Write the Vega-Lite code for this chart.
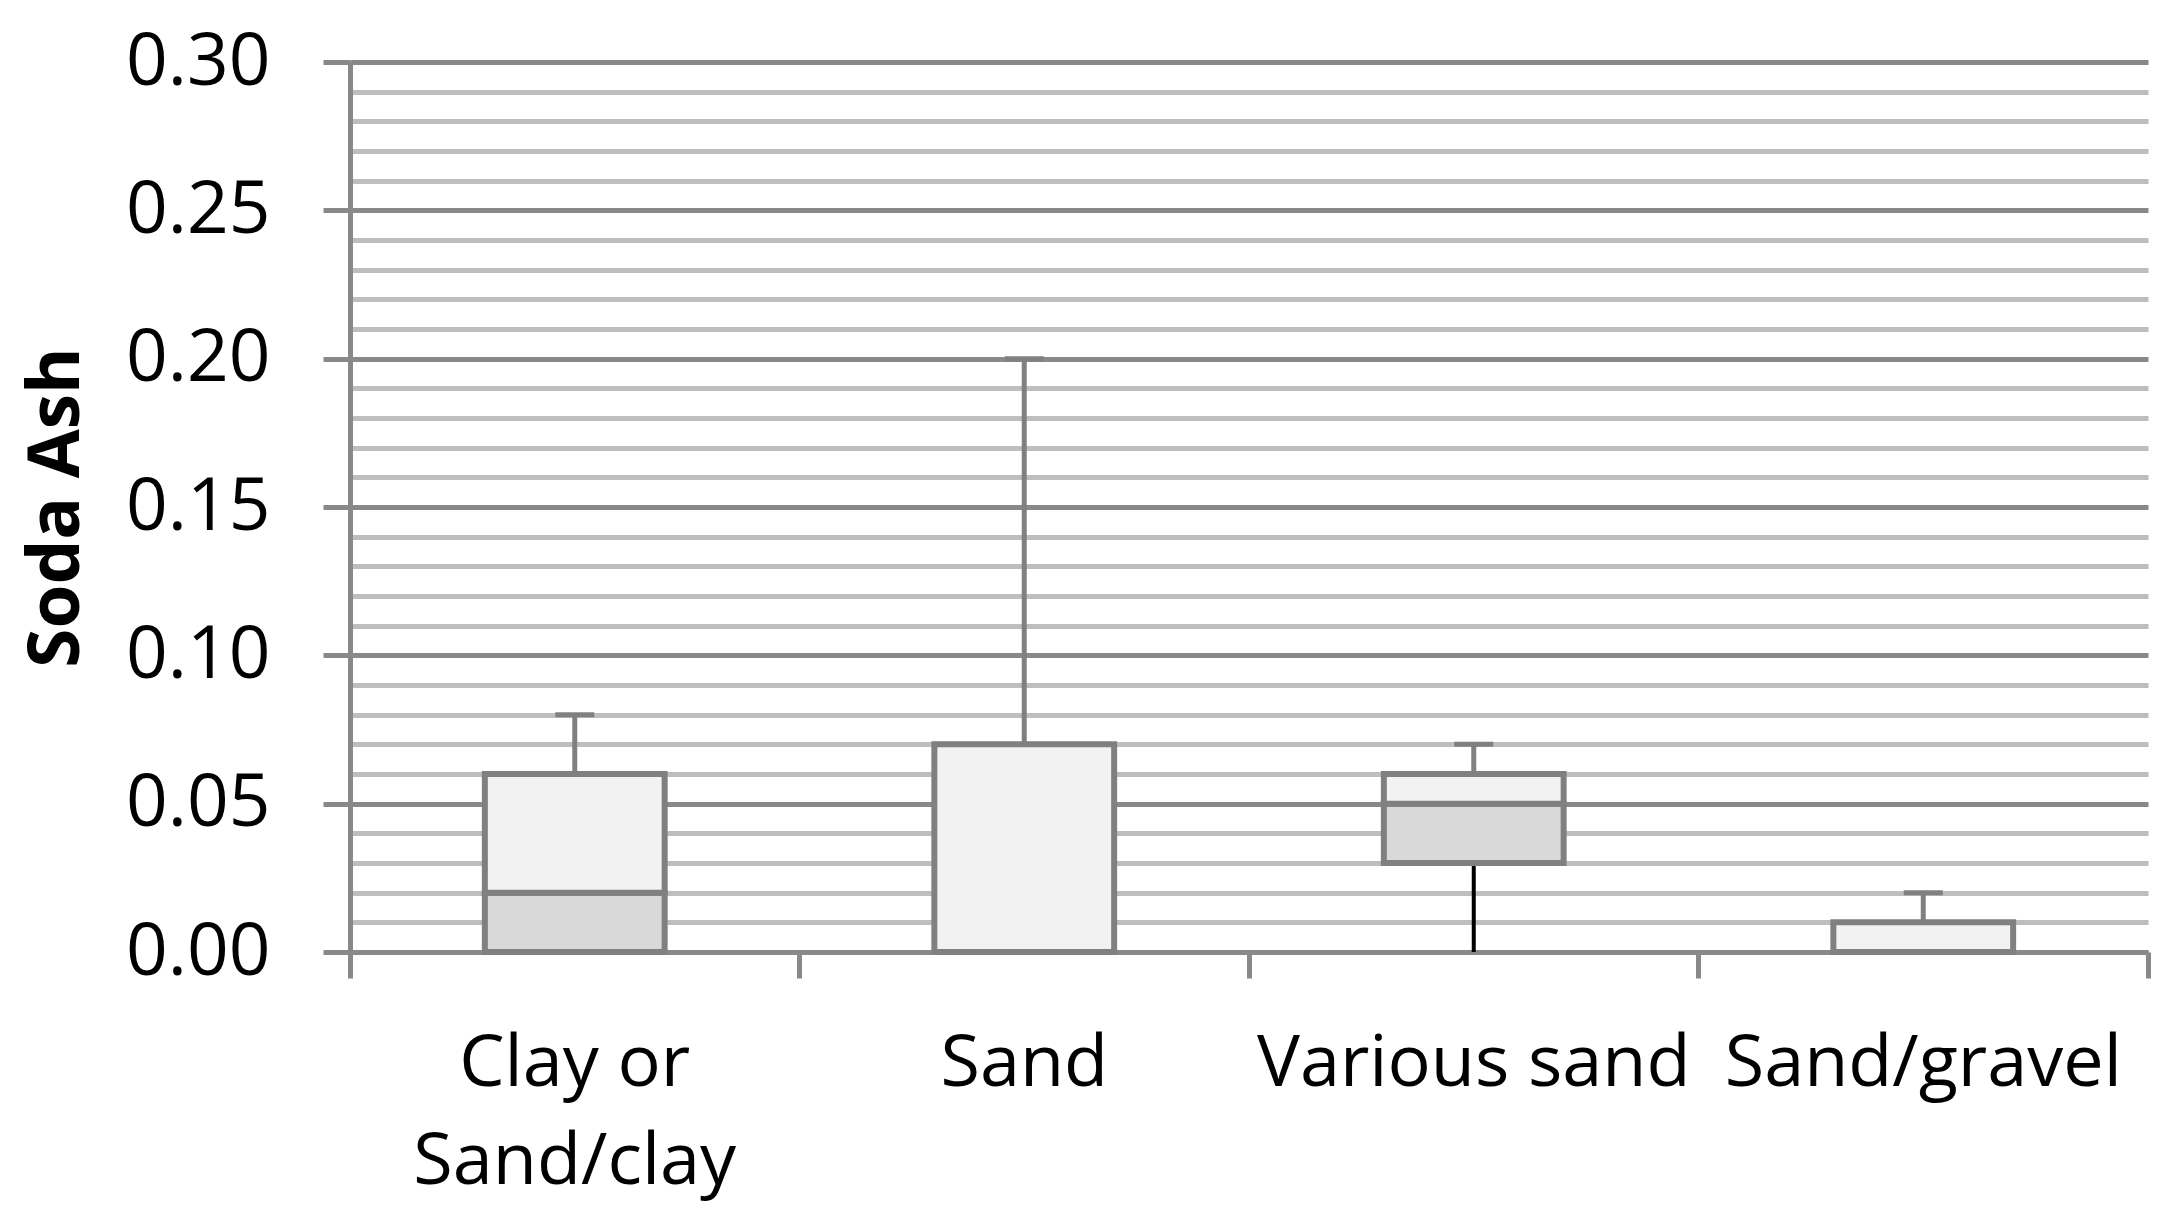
{
  "$schema": "https://vega.github.io/schema/vega-lite/v6.json",
  "width": 1798,
  "height": 890,
  "autosize": {"type": "none"},
  "padding": {"left": 350, "top": 62, "right": 25, "bottom": 277},
  "background": "white",
  "config": {"view": {"stroke": null}},
  "data": {
    "values": [
      {"cat": "Clay or Sand/clay", "min": 0, "q1": 0, "median": 0.02, "q3": 0.06, "max": 0.08},
      {"cat": "Sand", "min": 0, "q1": 0, "median": 0, "q3": 0.07, "max": 0.20},
      {"cat": "Various sand", "min": 0, "q1": 0.03, "median": 0.05, "q3": 0.06, "max": 0.07},
      {"cat": "Sand/gravel", "min": 0, "q1": 0, "median": 0, "q3": 0.01, "max": 0.02}
    ]
  },
  "encoding": {
    "x": {
      "field": "cat",
      "type": "nominal",
      "sort": null,
      "scale": {"paddingInner": 0, "paddingOuter": 0},
      "axis": {
        "title": null,
        "bandPosition": 1,
        "tickExtra": true,
        "labelFont": "Open Sans",
        "labelFontSize": 72,
        "labelColor": "black",
        "labelPadding": 50,
        "labelLimit": 1000,
        "labelLineHeight": 98,
        "labelBaseline": "top",
        "labelAlign": "center",
        "labelAngle": 0,
        "labelOverlap": false,
        "labelBound": false,
        "labelExpr": "datum.value == 'Clay or Sand/clay' ? ['Clay or', 'Sand/clay'] : datum.value",
        "ticks": true,
        "tickSize": 26,
        "tickWidth": 5,
        "tickColor": "#898989",
        "domain": true,
        "domainColor": "#898989",
        "domainWidth": 5,
        "grid": false
      }
    }
  },
  "layer": [
    {
      "mark": {"type": "rule", "color": "#808080", "strokeWidth": 5},
      "encoding": {
        "y": {
          "field": "q3",
          "type": "quantitative",
          "title": "Soda Ash",
          "scale": {"domain": [0, 0.3], "nice": false, "zero": true},
          "axis": {
            "values": [0, 0.01, 0.02, 0.03, 0.04, 0.05, 0.06, 0.07, 0.08, 0.09, 0.1, 0.11, 0.12, 0.13, 0.14, 0.15, 0.16, 0.17, 0.18, 0.19, 0.2, 0.21, 0.22, 0.23, 0.24, 0.25, 0.26, 0.27, 0.28, 0.29, 0.3],
            "tickCount": 200,
            "title": "Soda Ash",
            "titleFont": "Open Sans",
            "titleFontSize": 71,
            "titleFontWeight": "bold",
            "titleColor": "black",
            "titleAngle": -90,
            "titleX": -272,
            "titleY": 445,
            "titleBaseline": "alphabetic",
            "titleAlign": "center",
            "labelFont": "Open Sans",
            "labelFontSize": 73,
            "labelColor": "black",
            "labelPadding": 53,
            "labelBaseline": "middle",
            "labelOverlap": false,
            "labelBound": false,
            "labelFlush": false,
            "labelExpr": "round(datum.value * 100) % 5 == 0 ? format(datum.value, '.2f') : ''",
            "ticks": true,
            "tickSize": 27,
            "tickWidth": 5,
            "tickColor": {"condition": {"test": "round(datum.value * 100) % 5 == 0", "value": "#898989"}, "value": "rgba(0,0,0,0)"},
            "grid": true,
            "gridColor": {"condition": {"test": "round(datum.value * 100) % 5 == 0", "value": "#898989"}, "value": "#BEBEBE"},
            "gridWidth": 5,
            "domain": true,
            "domainColor": "#898989",
            "domainWidth": 5
          }
        },
        "y2": {"field": "max"}
      }
    },
    {
      "mark": {"type": "tick", "color": "#808080", "thickness": 5, "size": 39, "opacity": 1},
      "encoding": {
        "y": {"field": "max", "type": "quantitative", "title": "Soda Ash"}
      }
    },
    {
      "transform": [{"filter": "datum.min < datum.q1"}],
      "mark": {"type": "rule", "color": "black", "strokeWidth": 4},
      "encoding": {
        "y": {"field": "min", "type": "quantitative", "title": "Soda Ash"},
        "y2": {"field": "q1"}
      }
    },
    {
      "mark": {"type": "bar", "fill": "#D9D9D9", "stroke": "#808080", "strokeWidth": 6, "width": {"band": 0.4}},
      "encoding": {
        "y": {"field": "q1", "type": "quantitative", "title": "Soda Ash"},
        "y2": {"field": "median"}
      }
    },
    {
      "mark": {"type": "bar", "fill": "#F2F2F2", "stroke": "#808080", "strokeWidth": 6, "width": {"band": 0.4}},
      "encoding": {
        "y": {"field": "median", "type": "quantitative", "title": "Soda Ash"},
        "y2": {"field": "q3"}
      }
    }
  ]
}
